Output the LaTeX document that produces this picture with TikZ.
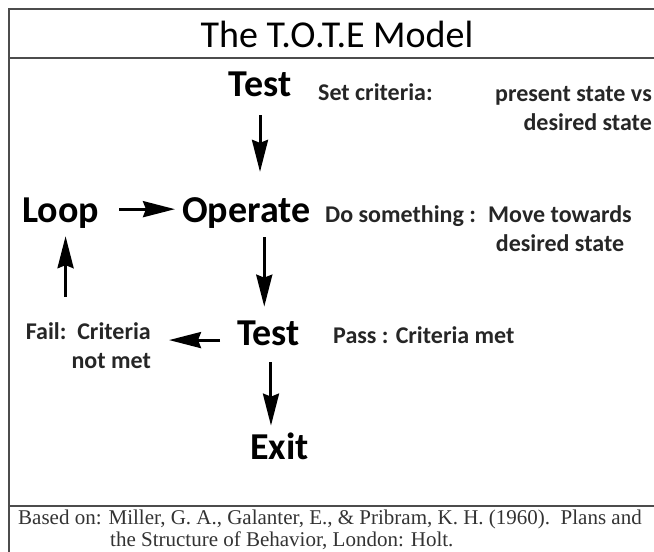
\documentclass[tikz,border=0pt]{standalone}
\usepackage{fontspec}
\setmainfont{Carlito}
\newfontfamily\citefont{Liberation Serif}
\usetikzlibrary{arrows.meta}

\begin{document}
\begin{tikzpicture}[x=1pt,y=-1pt,
    stage/.style={inner sep=0pt,font=\fontsize{38}{44}\selectfont\bfseries},
    note/.style={inner sep=0pt,text=black!85,font=\fontsize{24}{29}\selectfont\bfseries},
    flow/.style={line width=3pt,-{Stealth[length=32pt,width=16pt,inset=3pt]}},
    frame/.style={line width=1.5pt,black!70}]
    \useasboundingbox (0,0) rectangle (654,552);
    \fill[white] (0,0) rectangle (654,552);

    \draw[frame] (9,552) -- (9,9) -- (654,9);
    \draw[frame] (9,58) -- (654,58);
    \draw[frame] (9,506) -- (654,506);

    \node[inner sep=0pt,anchor=base,font=\fontsize{38}{44}\selectfont] (title) at (337,47) {The T.O.T.E Model};

    \node[stage,anchor=base] (test1) at (260,96) {Test};
    \node[stage,anchor=base west] (loop) at (22,222) {Loop};
    \node[stage,anchor=base west] (operate) at (182,222) {Operate};
    \node[stage,anchor=base west] (test2) at (237,345) {Test};
    \node[stage,anchor=base west] (exit) at (250,459) {Exit};

    \node[note,anchor=base west] (setcrit) at (318,100) {Set criteria:};
    \node[note,anchor=base east,align=right] (present) at (652,130) {present state vs\\desired state};
    \node[note,anchor=base west] (dosome) at (325,222) {Do something :};
    \node[note,anchor=base,align=center] (towards) at (560,251) {Move towards\\desired state};
    \node[note,anchor=base west] (pass) at (333,343) {Pass : Criteria met};
    \node[note,anchor=base east,align=right] (fail) at (151,368) {Fail:\ \ Criteria\\not met};

    \node[inner sep=0pt,anchor=base west,align=left,text=black!80,font=\citefont\fontsize{21}{22}\selectfont] (cite) at (18,546)
        {Based on: Miller, G. A., Galanter, E., \& Pribram, K. H. (1960).\ \ Plans and\\\hspace*{92pt}the Structure of Behavior, London: Holt.};

    \draw[flow,shorten <=19pt,shorten >=25pt] (test1.south) -- (test1.south |- operate.north);
    \draw[flow,shorten <=20pt,shorten >=7pt] ([yshift=3.5pt]loop.east) -- ([yshift=3.5pt]loop.east -| operate.west);
    \draw[flow,shorten <=9pt,shorten >=13.5pt] ([xshift=18pt]operate.south) -- ([xshift=18pt]operate.south |- test2.north);
    \draw[flow,shorten <=17pt,shorten >=18pt] ([yshift=-7.25pt]test2.west) -- ([yshift=-7.25pt]test2.west -| fail.east);
    \draw[flow,shorten <=25pt,shorten >=8pt] ([xshift=5pt]loop.south |- fail.north) -- ([xshift=5pt]loop.south);
    \draw[flow,shorten <=17pt,shorten >=6.5pt] ([xshift=2.5pt]test2.south) -- ([xshift=2.5pt]test2.south |- exit.north);
\end{tikzpicture}
\end{document}
